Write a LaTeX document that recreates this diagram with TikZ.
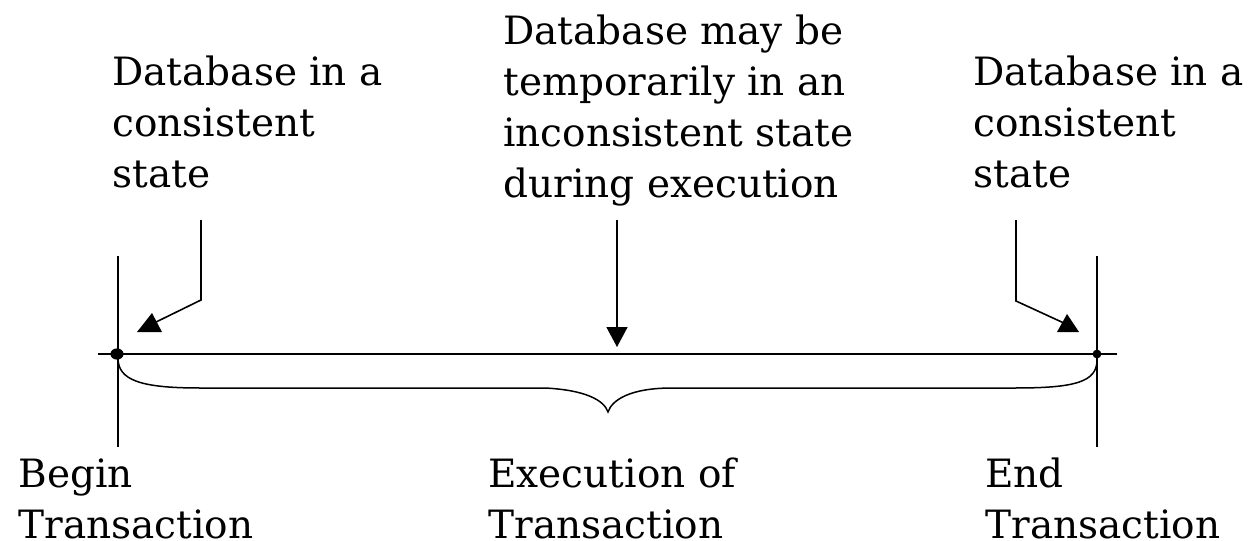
\documentclass[tikz,border=0pt]{standalone}
\usepackage{fontspec}
\setmainfont{DejaVu Serif}
\usetikzlibrary{arrows.meta}

\begin{document}
\begin{tikzpicture}[
  x=0.5pt, y=-0.5pt,
  every node/.style={font=\fontsize{19.5pt}{25.5pt}\selectfont},
  lbl/.style={align=left,inner sep=0pt,anchor=base west},
  axis/.style={line width=0.8pt},
  pointer/.style={line width=0.8pt},
  arrow/.style={pointer,-{Triangle[length=10pt,width=10.5pt]}},
  head/.style={fill=black},
  dot/.style={fill=black}
]
\useasboundingbox (0,0) rectangle (1250,541);

% labels (placed at the baseline of their last line)
\node[lbl] (startstate) at (112,187) {Database in a\\consistent\\state};
\node[lbl] (midstate) at (503,197) {Database may be\\temporarily in an\\inconsistent state\\during execution};
\node[lbl] (endstate) at (973,187) {Database in a\\consistent\\state};
\node[lbl] (begin) at (18,538) {Begin\\Transaction};
\node[lbl] (exec) at (488,538) {Execution of\\Transaction};
\node[lbl] (end) at (985,538) {End\\Transaction};

% time line and the two marks
\coordinate (lineL) at (98,354);
\coordinate (lineR) at (1117,354);
\coordinate (t0) at (117,354);
\coordinate (t1) at (1097,354);
\coordinate (t0top) at (118,256);
\coordinate (t0bot) at (118,447);
\coordinate (t1top) at (1097,256);
\coordinate (t1bot) at (1097,447);
\draw[axis] (lineL) -- (lineR);
\draw[axis] (t0top) -- (t0bot);
\draw[axis] (t1top) -- (t1bot);
\fill[dot] (t0) ellipse [x radius=3.3pt,y radius=2.8pt];
\fill[dot] (t1) circle [radius=2.2pt];

% pointers from the labels
\coordinate (ls) at (201,220);
\coordinate (lb) at (201,300);
\coordinate (lt) at (152,324);
\draw[pointer] (ls) -- (lb) -- (lt);
\fill[head] (137,332) -- (162,332) -- (152,313) -- cycle;

\coordinate (ms) at (617,220);
\coordinate (mt) at (617,347);
\draw[arrow] (ms) -- (mt);

\coordinate (rs) at (1016,220);
\coordinate (rb) at (1016,301);
\coordinate (rt) at (1066,324);
\draw[pointer] (rs) -- (rb) -- (rt);
\fill[head] (1057,332) -- (1079,332) -- (1067,314) -- cycle;

% brace under the execution
\draw[line width=0.75pt] (118,358) .. controls (118,380) and (140,388) .. (200,388)
  -- (545,388) .. controls (585,390) and (604,400) .. (608,412)
  .. controls (612,400) and (630,388) .. (672,388)
  -- (1015,388) .. controls (1075,388) and (1097,382) .. (1097,360);
\end{tikzpicture}
\end{document}
